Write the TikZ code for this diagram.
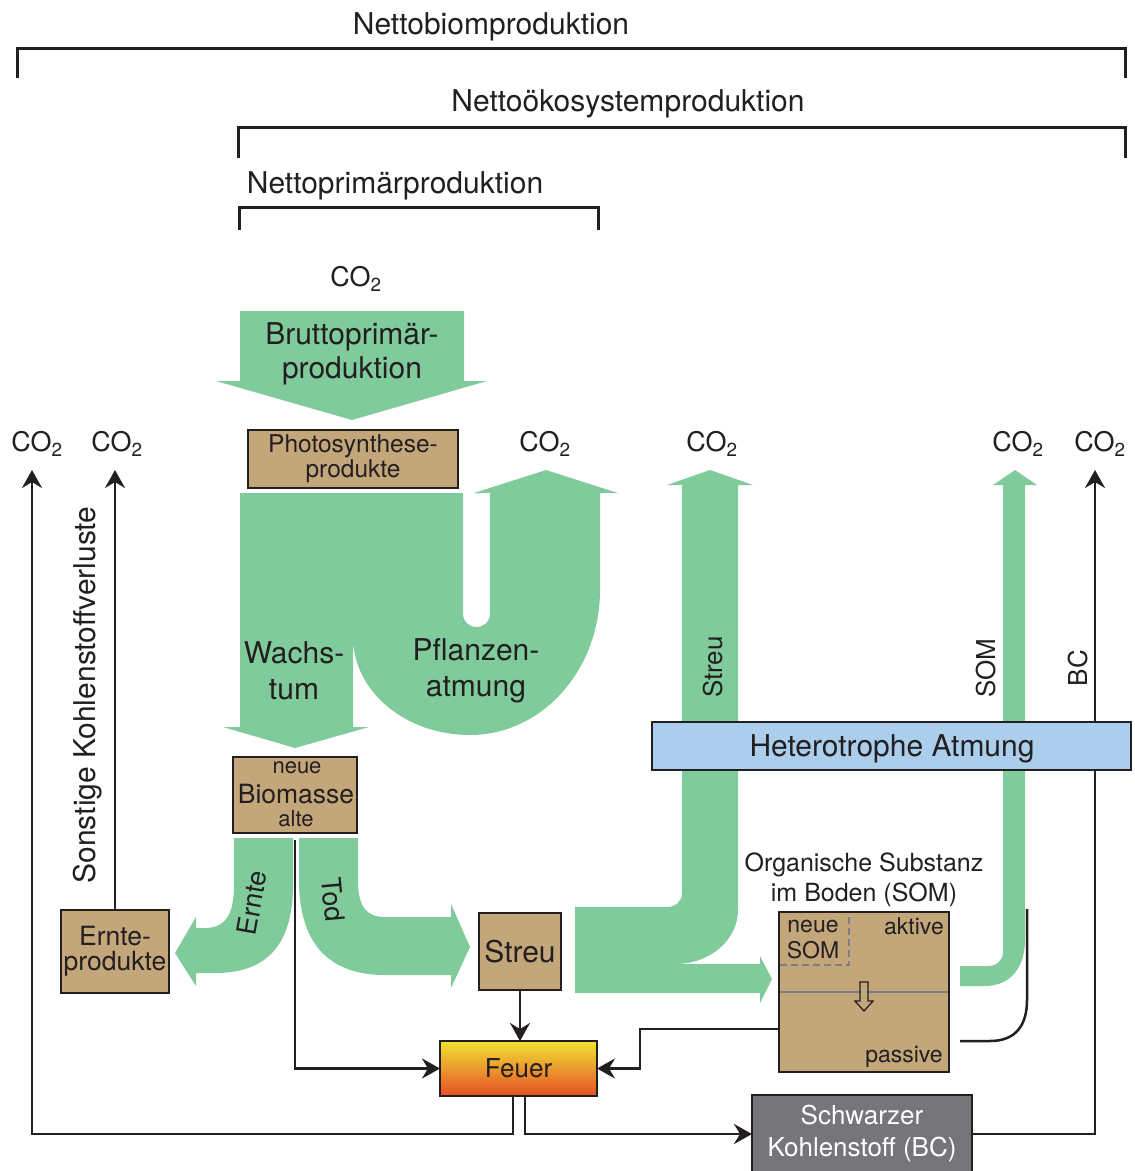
\documentclass[tikz,border=0pt]{standalone}
\usepackage{fontspec}
\setmainfont{TeX Gyre Heros}
\usetikzlibrary{arrows.meta}
\definecolor{flow}{RGB}{128,203,155}
\definecolor{tanc}{RGB}{196,166,123}
\definecolor{ink}{RGB}{35,31,32}
\definecolor{hetblue}{RGB}{170,206,236}
\definecolor{bcgray}{RGB}{118,118,122}
\definecolor{midgray}{RGB}{125,125,135}
\definecolor{fireY}{RGB}{240,228,50}
\definecolor{fireO}{RGB}{238,150,50}
\definecolor{fireR}{RGB}{230,78,40}
\newcommand\fs[1]{\fontsize{#1}{#1}\selectfont}
\begin{document}
\begin{tikzpicture}[x=1pt,y=-1pt,
  every node/.style={text=ink, inner sep=0pt, outer sep=0pt},
  tanbox/.style={draw=ink, line width=2.5pt, fill=tanc},
  conn/.style={draw=ink, line width=2.5pt, -{Stealth[length=18pt,width=20pt,inset=6pt]}},
  thinline/.style={draw=ink, line width=2.5pt},
  bracketline/.style={draw=ink, line width=3pt},
  flowfill/.style={fill=flow, draw=none},
]
\useasboundingbox (0,0) rectangle (1135,1171);

% ---- brackets and titles
\node (tNB) at (491,27) {\fs{30}Nettobiomproduktion};
\draw[bracketline] (17,78) -- (17,48) -- (1125,48) -- (1125,78);
\node (tNE) at (628,104) {\fs{30}Nettoökosystemproduktion};
\draw[bracketline] (238,158) -- (238,127) -- (1125,127) -- (1125,158);
\node (tNP) at (395,186) {\fs{30}Nettoprimärproduktion};
\draw[bracketline] (239,230) -- (239,207) -- (598,207) -- (598,230);

% ---- CO2 labels
\node (co2top) at (356,279) {\fs{27}CO\textsubscript{2}};
\node (c1) at (37,444) {\fs{27}CO\textsubscript{2}};
\node (c2) at (117,444) {\fs{27}CO\textsubscript{2}};
\node (c3) at (545,444) {\fs{27}CO\textsubscript{2}};
\node (c4) at (712,444) {\fs{27}CO\textsubscript{2}};
\node (c5) at (1018,444) {\fs{27}CO\textsubscript{2}};
\node (c6) at (1100,444) {\fs{27}CO\textsubscript{2}};
\coordinate (co2a) at (32,470);
\coordinate (co2b) at (115,470);
\coordinate (co2f) at (1095,470);

% ---- green flows
\fill[flowfill] (240,311) -- (464,311) -- (464,381) -- (487,381) -- (352,420) -- (216,381) -- (240,381) -- cycle;
\fill[flowfill] (240,493) -- (463,493) -- (463,614)
  .. controls (463,621.5) and (469,627) .. (476.5,627)
  .. controls (484,627) and (490,621.5) .. (490,614)
  -- (490,493) -- (474,493) -- (546,470) -- (618,493) -- (600,493) -- (600,590)
  .. controls (600,670) and (542,735) .. (470,735)
  .. controls (405,735) and (353,691) .. (353,637)
  -- (353,727) -- (369,727) -- (295,748) -- (223,727) -- (240,727) -- cycle;
% Ernte
\fill[flowfill] (234,838) -- (293,838) -- (293,885)
  .. controls (293,950) and (262,973) .. (215,973) -- (196,973) -- (196,986) -- (175,953)
  -- (196,917) -- (196,928) -- (205,928)
  .. controls (225,928) and (234,915) .. (234,885) -- cycle;
% Tod
\fill[flowfill] (299,838) -- (358,838) -- (358,880)
  .. controls (358,905) and (365,917) .. (385,917) -- (451,917) -- (451,904) -- (470,947)
  -- (451,988) -- (451,975) -- (385,975)
  .. controls (330,975) and (299,945) .. (299,880) -- cycle;
% Streu -> CO2 / SOM
\fill[flowfill] (575,907) -- (667,907) .. controls (676,907) and (682,901) .. (682,893)
  -- (682,485) -- (667,485) -- (710,470) -- (753,485) -- (738,485) -- (738,910)
  .. controls (738,940) and (710,964) .. (675,964) -- (760,964) -- (760,956) -- (772,979)
  -- (760,1003) -- (760,993) -- (575,993) -- cycle;
% SOM -> CO2
\fill[flowfill] (960,966) -- (988,966) .. controls (997,966) and (1003,960) .. (1003,952)
  -- (1003,485) -- (993,485) -- (1015,470) -- (1037,485) -- (1025,485) -- (1025,940)
  .. controls (1025,968) and (1010,986) .. (985,986) -- (960,986) -- cycle;

% flow labels
\node[align=center, font={\fontsize{30}{34}\selectfont}] (tBP) at (352,354) {Bruttoprimär-\\produktion};
\node[align=center, font={\fontsize{30}{36}\selectfont}] (tW) at (294,671) {Wachs-\\tum};
\node[align=center, font={\fontsize{30}{36}\selectfont}] (tPA) at (476,671) {Pflanzen-\\atmung};
\node[rotate=80] (tErnte) at (252,903) {\fs{27}Ernte};
\node[rotate=-85] (tTod) at (333,900) {\fs{27}Tod};
\node[rotate=90] (tStreu) at (713,667) {\fs{26}Streu};
\node[rotate=90] (tSOM) at (986,668) {\fs{26}SOM};
\node[rotate=90] (tBC) at (1078,668) {\fs{26}BC};
\node[rotate=90] (tSK) at (88,695) {\fs{30}Sonstige Kohlenstoffverluste};

% ---- BC box and its line (behind heterotrophic box)
\node[draw=ink, line width=2.5pt, fill=bcgray, text=white, align=center,
      font={\fontsize{26}{32}\selectfont},
      minimum width=220pt, minimum height=78pt] (bc) at (862,1134)
      {Schwarzer\\Kohlenstoff (BC)};
\draw[conn] (bc.east) -| (co2f);

\node[draw=ink, line width=2.5pt, fill=hetblue, minimum width=479pt, minimum height=48pt]
  (hetero) at (891.5,746) {};
\node (hetT) at (892,749) {\fs{30}Heterotrophe Atmung};

% ---- boxes
\node[tanbox, minimum width=210pt, minimum height=58pt, align=center,
      font={\fontsize{24.5}{25}\selectfont}] (photo) at (353,459)
  {Photosynthese-\\produkte};
\node[tanbox, minimum width=124pt, minimum height=76pt] (biom) at (295,795) {};
\node (biomN) at (297,768) {\fs{22}neue};
\node (biomB) at (296,794) {\fs{26.5}Biomasse};
\node (biomA) at (296,819) {\fs{22}alte};
\node[tanbox, minimum width=108pt, minimum height=83pt, align=center,
      font={\fontsize{26.5}{25}\selectfont}] (ernteP) at (115,951.5)
  {Ernte-\\produkte};
\node[tanbox, minimum width=82pt, minimum height=77pt] (streuB) at (520,951.5) {\fs{30}Streu};
\node[draw=ink, line width=2.5pt, top color=fireY, middle color=fireO, bottom color=fireR,
      minimum width=157pt, minimum height=55pt] (feuer) at (518.5,1068.5) {\fs{26}Feuer};
\node[tanbox, minimum width=170pt, minimum height=160pt] (som) at (864,992) {};
\draw[midgray, dash pattern=on 7pt off 4pt, line width=1.3pt] (780,965) -- (849,965) -- (849,913);
\draw[midgray, line width=2pt] (780,992) -- (948,992);
\draw[ink, line width=1.3pt, fill=tanc] (860,982) -- (868,982) -- (868,1001) -- (873,1001)
  -- (864,1011) -- (855,1001) -- (860,1001) -- cycle;
\node (sN) at (813,926) {\fs{23}neue};
\node (sS) at (813,950) {\fs{23}SOM};
\node (sA) at (914,926) {\fs{23}aktive};
\node (sP) at (904,1057) {\fs{23}passive};
\node[align=center, font={\fontsize{25}{30}\selectfont}] (tOS) at (864,880) {Organische Substanz\\im Boden (SOM)};

% ---- connectors
\coordinate (somout) at (779,1029);
\coordinate (somturn) at (640,1029);
\draw[conn] ([yshift=-7pt]biom.south) |- (feuer.west);
\draw[conn] (streuB.south) -- (streuB.south |- feuer.north);
\draw[conn] (somout) -- (somturn) |- (feuer.east);
\draw[conn] ([xshift=-5.5pt]feuer.south) -- ++(0,38) -| (co2a);
\draw[conn] ([xshift=6.5pt]feuer.south) |- (bc.west);
\draw[conn] (ernteP.north) -- (co2b);
\coordinate (bcl0) at (960,1041);
\draw[thinline] (bcl0) -- (990,1041) .. controls (1016,1041) and (1027,1025) .. (1027,1000) -- (1027,909);
\end{tikzpicture}
\end{document}
